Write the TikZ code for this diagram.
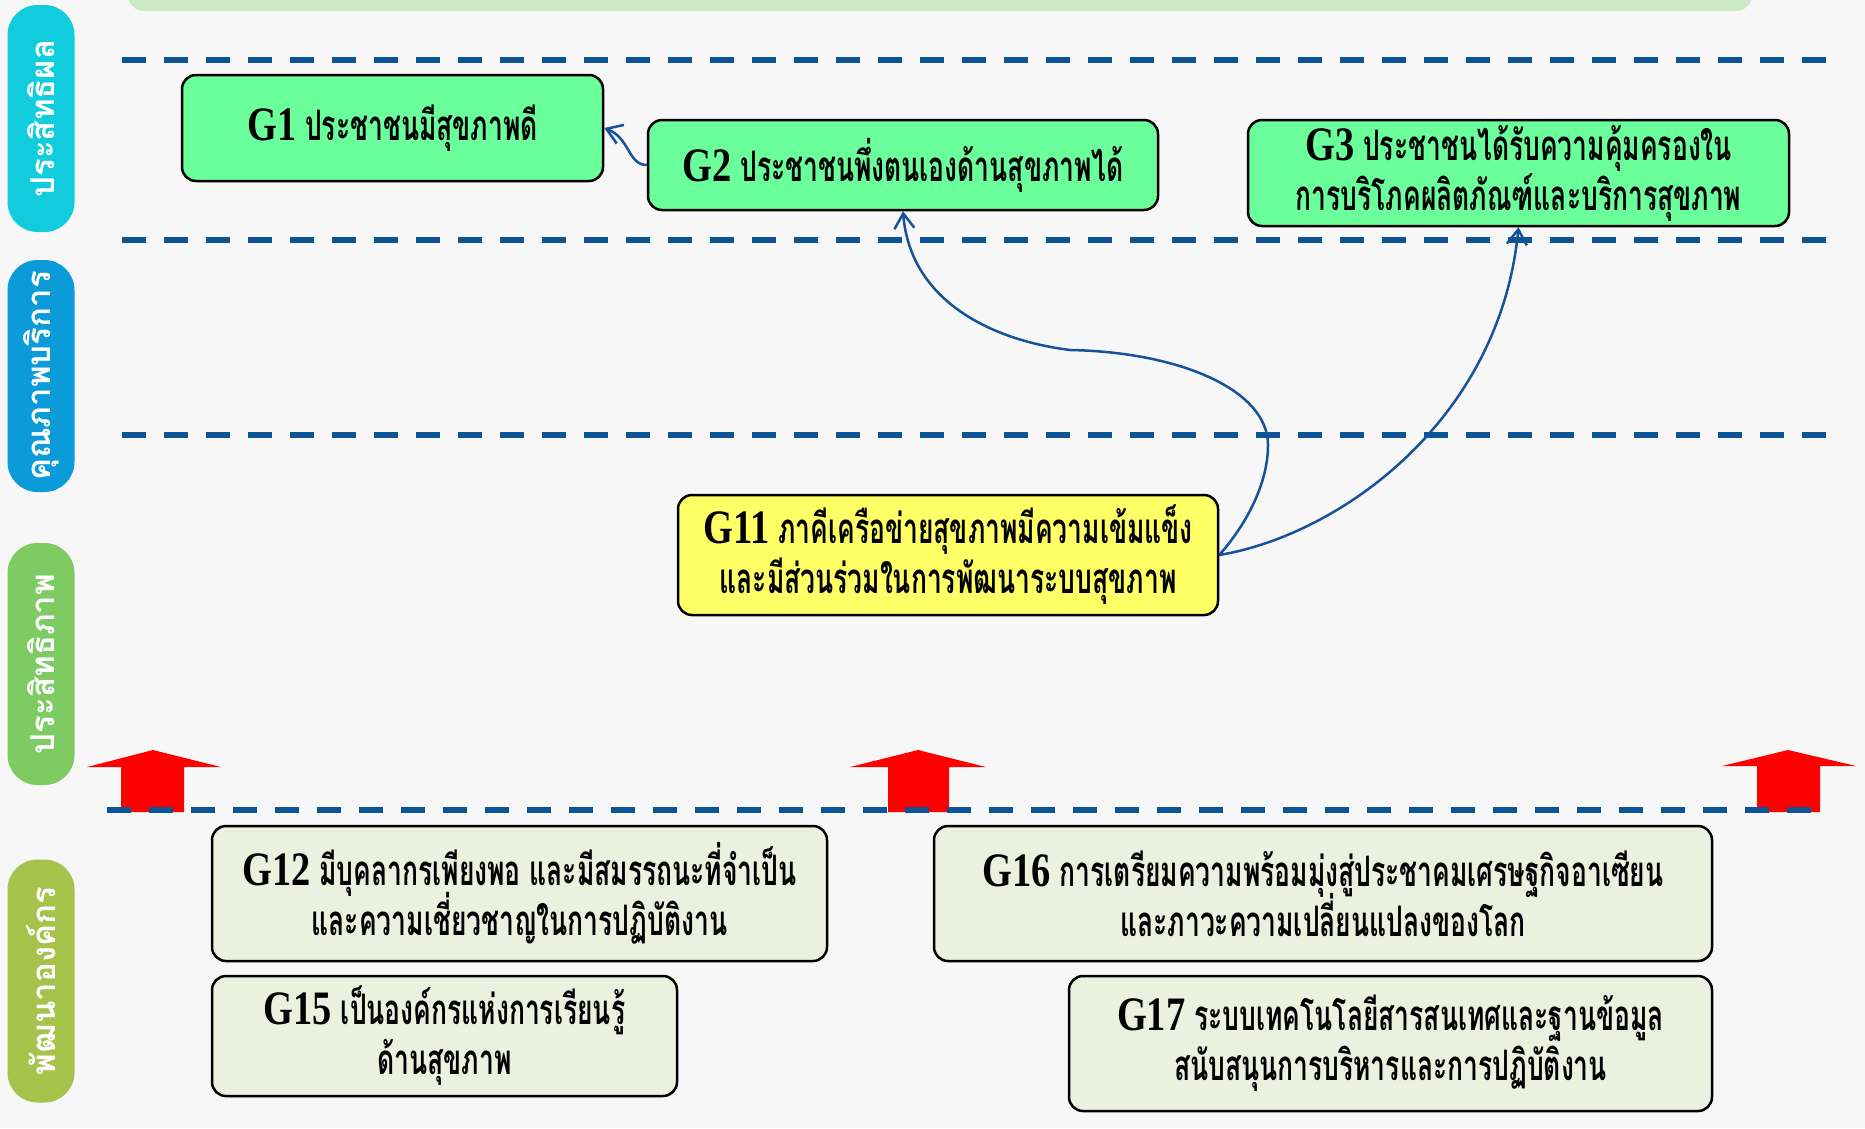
\documentclass[tikz,border=0pt]{standalone}
\usepackage{fontspec}
\setmainfont{Liberation Serif}
\newfontfamily\thai[Script=Thai,FakeStretch=0.63]{Loma}
\newfontfamily\pillfont[Script=Thai]{Loma}
\newfontfamily\gfont[FakeStretch=0.8]{Liberation Serif}
\usetikzlibrary{arrows.meta}
\definecolor{bgc}{RGB}{247,247,247}
\definecolor{banner}{RGB}{203,233,195}
\definecolor{mint}{RGB}{107,255,155}
\definecolor{ybox}{RGB}{255,255,102}
\definecolor{beige}{RGB}{235,241,222}
\definecolor{dblue}{RGB}{12,84,150}
\definecolor{cblue}{RGB}{22,82,152}
\definecolor{pcyan}{RGB}{16,204,220}
\definecolor{pblue}{RGB}{10,155,216}
\definecolor{pgreen}{RGB}{125,203,98}
\definecolor{polive}{RGB}{165,195,74}
\definecolor{bred}{RGB}{255,0,0}
\newcommand{\gnum}[1]{{\gfont\bfseries\fontsize{48}{50}\selectfont #1}}
\begin{document}
\begin{tikzpicture}[x=1pt,y=-1pt,
  gbox/.style={draw=black, line width=2.5pt, rounded corners=14pt, inner sep=0pt,
    align=center, text=black,
    font={\thai\bfseries\fontsize{42}{50}\selectfont\lineskiplimit=-100pt}},
  pill/.style={rounded corners=30pt, rotate=90, inner sep=0pt, text=white,
    minimum height=67pt, font={\pillfont\bfseries\fontsize{33}{36}\selectfont}},
  sep/.style={draw=dblue, line width=6pt, dash pattern=on 24pt off 18pt},
  conn/.style={draw=cblue, line width=2.5pt, -{Straight Barb[length=15pt,width=20pt]}},
  uparrow/.style={fill=bred}
]
\useasboundingbox (0,0) rectangle (1865,1128);
\fill[bgc] (0,0) rectangle (1865,1128);
\fill[banner, rounded corners=16pt] (128,-40) rectangle (1752,11);

% side pills
\node[pill, fill=pcyan,  minimum width=227pt] (p1) at (41,118.5) {ประสิทธิผล};
\node[pill, fill=pblue,  minimum width=232pt] (p2) at (41,376) {คุณภาพบริการ};
\node[pill, fill=pgreen, minimum width=242pt] (p3) at (41,664) {ประสิทธิภาพ};
\node[pill, fill=polive, minimum width=243pt] (p4) at (41,981) {พัฒนาองค์กร};

% red block arrows
\fill[uparrow] (153,750) -- (221,767) -- (184,767) -- (184,812) -- (121,812) -- (121,767) -- (87,767) -- cycle;
\fill[uparrow] (918,750) -- (986,767) -- (949,767) -- (949,812) -- (888,812) -- (888,767) -- (850,767) -- cycle;
\fill[uparrow] (1788,750) -- (1856,766) -- (1820,766) -- (1820,812) -- (1757,812) -- (1757,766) -- (1722,766) -- cycle;

% dashed separators
\draw[sep] (122,60) -- (1828,60);
\draw[sep] (122,240) -- (1828,240);
\draw[sep] (122,435) -- (1828,435);
\draw[sep] (107,810) -- (1812,810);

% goal boxes
\node[gbox, fill=mint, minimum width=421pt, minimum height=106pt] (g1) at (392.5,128)
  {\gnum{G1} ประชาชนมีสุขภาพดี};
\node[gbox, fill=mint, minimum width=510pt, minimum height=90pt] (g2) at (903,165)
  {\gnum{G2} ประชาชนพึ่งตนเองด้านสุขภาพได้};
\node[gbox, fill=mint, minimum width=541pt, minimum height=106pt] (g3) at (1518.5,173)
  {\gnum{G3} ประชาชนได้รับความคุ้มครองใน\\การบริโภคผลิตภัณฑ์และบริการสุขภาพ};
\node[gbox, fill=ybox, minimum width=540pt, minimum height=120pt] (g11) at (948,555)
  {\gnum{G11} ภาคีเครือข่ายสุขภาพมีความเข้มแข็ง\\และมีส่วนร่วมในการพัฒนาระบบสุขภาพ};
\node[gbox, fill=beige, minimum width=615pt, minimum height=135pt] (g12) at (519.5,893.5)
  {\gnum{G12} มีบุคลากรเพียงพอ และมีสมรรถนะที่จำเป็น\\และความเชี่ยวชาญในการปฏิบัติงาน};
\node[gbox, fill=beige, minimum width=465pt, minimum height=120pt] (g15) at (444.5,1036)
  {\gnum{G15} เป็นองค์กรแห่งการเรียนรู้\\ด้านสุขภาพ};
\node[gbox, fill=beige, minimum width=778pt, minimum height=135pt] (g16) at (1323,893.5)
  {\gnum{G16} การเตรียมความพร้อมมุ่งสู่ประชาคมเศรษฐกิจอาเซียน\\และภาวะความเปลี่ยนแปลงของโลก};
\node[gbox, fill=beige, minimum width=643pt, minimum height=135pt] (g17) at (1390.5,1043.5)
  {\gnum{G17} ระบบเทคโนโลยีสารสนเทศและฐานข้อมูล\\สนับสนุนการบริหารและการปฏิบัติงาน};

% connectors
\draw[conn] (g2.west) .. controls (628,165) and (630,138) .. (g1.east);
\draw[conn] (g11.east) .. controls (1250,520) and (1268,480) .. (1268,445)
  .. controls (1268,390) and (1180,352) .. (1070,350)
  .. controls (990,340) and (910,300) .. (g2.south);
\draw[conn] (g11.east) .. controls (1340,535) and (1500,420) .. (g3.south);
\end{tikzpicture}
\end{document}
